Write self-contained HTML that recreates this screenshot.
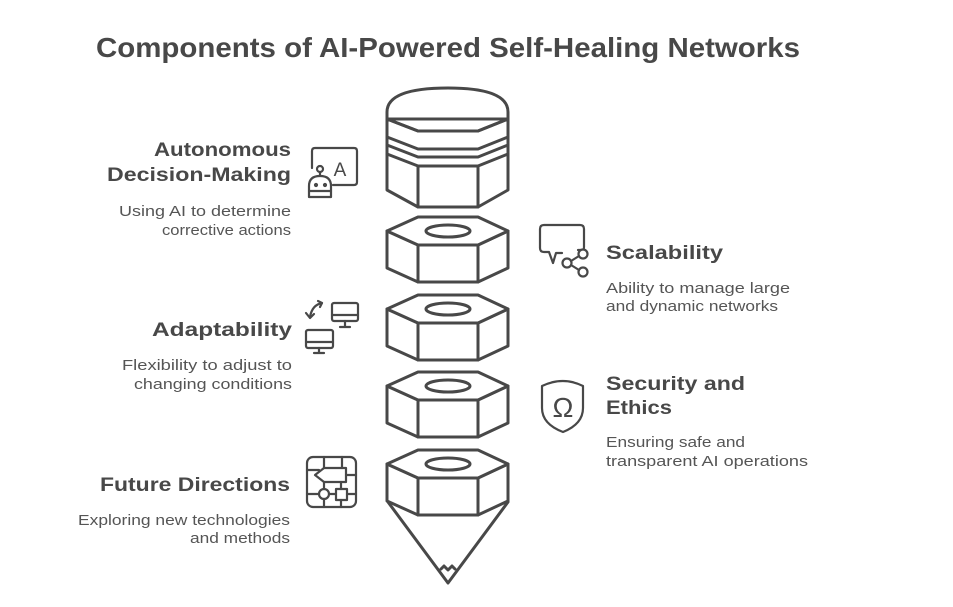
<!DOCTYPE html>
<html>
<head>
<meta charset="utf-8">
<style>
  html, body { margin: 0; padding: 0; background: #ffffff; }
  svg { display: block; }
  .h { font-family: "Liberation Sans", "DejaVu Sans", sans-serif; font-weight: bold; fill: #484848; }
  .d { font-family: "Liberation Sans", "DejaVu Sans", sans-serif; fill: #555555; }
</style>
</head>
<body>
<svg width="953" height="607" viewBox="0 0 953 607" xmlns="http://www.w3.org/2000/svg">
  <rect x="0" y="0" width="953" height="607" fill="#ffffff"/>

  <!-- Title -->
  <text class="h" x="96" y="57" font-size="28" textLength="704" lengthAdjust="spacingAndGlyphs">Components of AI-Powered Self-Healing Networks</text>

  <!-- Central stack -->
  <g stroke="#484848" stroke-width="3" fill="#ffffff" stroke-linejoin="round" stroke-linecap="round">
    <!-- Cap -->
    <path d="M387,119 L387,112 C387,95 410,88 448,88 C486,88 508,95 508,112 L508,119 Z"/>
    <path d="M387,119 L418,131 L478,131 L508,119 L508,190 L478,207 L418,207 L387,190 Z"/>
    <polyline fill="none" points="387,119 418,131 478,131 508,119"/>
    <polyline fill="none" points="387,137 418,149 478,149 508,137"/>
    <polyline fill="none" points="387,145 418,157 478,157 508,145"/>
    <polyline fill="none" points="387,154 418,166 478,166 508,154"/>
    <line x1="418" y1="166" x2="418" y2="207"/>
    <line x1="478" y1="166" x2="478" y2="207"/>

    <!-- Nut 1 T=217 -->
    <path d="M387,231 L418,245 L478,245 L508,231 L508,268 L478,282 L418,282 L387,268 Z"/>
    <polygon points="418,217 478,217 508,231 478,245 418,245 387,231"/>
    <line x1="418" y1="245" x2="418" y2="282"/>
    <line x1="478" y1="245" x2="478" y2="282"/>
    <ellipse cx="448" cy="231" rx="22" ry="6"/>

    <!-- Nut 2 T=295 -->
    <path d="M387,309 L418,323 L478,323 L508,309 L508,346 L478,360 L418,360 L387,346 Z"/>
    <polygon points="418,295 478,295 508,309 478,323 418,323 387,309"/>
    <line x1="418" y1="323" x2="418" y2="360"/>
    <line x1="478" y1="323" x2="478" y2="360"/>
    <ellipse cx="448" cy="309" rx="22" ry="6"/>

    <!-- Nut 3 T=372 -->
    <path d="M387,386 L418,400 L478,400 L508,386 L508,423 L478,437 L418,437 L387,423 Z"/>
    <polygon points="418,372 478,372 508,386 478,400 418,400 387,386"/>
    <line x1="418" y1="400" x2="418" y2="437"/>
    <line x1="478" y1="400" x2="478" y2="437"/>
    <ellipse cx="448" cy="386" rx="22" ry="6"/>

    <!-- Nut 4 T=450 + cone -->
    <polyline fill="none" points="388,502 448,583 508,502"/>
    <polyline fill="none" points="441,569 444,566 448,570 452,566 455,569"/>
    <path d="M387,464 L418,478 L478,478 L508,464 L508,501 L478,515 L418,515 L387,501 Z"/>
    <polygon points="418,450 478,450 508,464 478,478 418,478 387,464"/>
    <line x1="418" y1="478" x2="418" y2="515"/>
    <line x1="478" y1="478" x2="478" y2="515"/>
    <ellipse cx="448" cy="464" rx="22" ry="6"/>
  </g>

  <!-- Icons -->
  <g stroke="#484848" stroke-width="2.2" fill="none" stroke-linejoin="round" stroke-linecap="round">
    <!-- Autonomous decision making -->
    <path d="M312,168 L312,151 Q312,148 315,148 L354,148 Q357,148 357,151 L357,182 Q357,185 354,185 L333,185"/>
    <text x="340" y="176" font-family="Liberation Sans, sans-serif" font-size="19" fill="#484848" stroke="none" text-anchor="middle">A</text>
    <circle cx="320" cy="169" r="3" fill="#ffffff"/>
    <line x1="320" y1="172" x2="320" y2="176"/>
    <path d="M309,197 L309,186 Q309,176 320,176 Q331,176 331,186 L331,197 Z" fill="#ffffff"/>
    <line x1="309" y1="191" x2="331" y2="191"/>
    <circle cx="316" cy="185" r="1" fill="#484848"/>
    <circle cx="325" cy="185" r="1" fill="#484848"/>

    <!-- Adaptability -->
    <rect x="332" y="303" width="26" height="18" rx="2"/>
    <line x1="332" y1="315" x2="358" y2="315"/>
    <line x1="345" y1="321" x2="345" y2="326"/>
    <line x1="340" y1="327" x2="350" y2="327"/>
    <rect x="306" y="330" width="27" height="18" rx="2"/>
    <line x1="306" y1="342" x2="333" y2="342"/>
    <line x1="319" y1="348" x2="319" y2="352"/>
    <line x1="314" y1="353" x2="324" y2="353"/>
    <path d="M322,303 Q312,305 310,317"/>
    <polyline points="306,313 310,318 314,314"/>
    <polyline points="318,301 322,303 320,307"/>

    <!-- Future directions -->
    <rect x="307" y="457" width="49" height="50" rx="6"/>
    <polygon points="315,475 324,468 346,468 346,482 324,482"/>
    <line x1="324" y1="457" x2="324" y2="468"/>
    <line x1="342" y1="457" x2="342" y2="468"/>
    <line x1="307" y1="470" x2="319" y2="470"/>
    <line x1="346" y1="475" x2="356" y2="475"/>
    <line x1="324" y1="482" x2="324" y2="489"/>
    <line x1="341" y1="482" x2="341" y2="489"/>
    <circle cx="324" cy="494" r="5"/>
    <rect x="336" y="489" width="11" height="11"/>
    <line x1="307" y1="494" x2="319" y2="494"/>
    <line x1="329" y1="494" x2="336" y2="494"/>
    <line x1="347" y1="494" x2="356" y2="494"/>
    <line x1="324" y1="499" x2="324" y2="507"/>
    <line x1="341" y1="500" x2="341" y2="507"/>

    <!-- Scalability -->
    <path d="M578,250 L582,250 Q584,250 584,247 L584,229 Q584,225 580,225 L544,225 Q540,225 540,229 L540,248 Q540,252 544,252 L549,252 L553,263 L556,253 L562,253"/>
    <circle cx="583" cy="254" r="4.5" fill="#ffffff"/>
    <circle cx="567" cy="263" r="4.5" fill="#ffffff"/>
    <circle cx="583" cy="272" r="4.5" fill="#ffffff"/>
    <line x1="571" y1="261" x2="579" y2="256"/>
    <line x1="571" y1="265" x2="579" y2="270"/>

    <!-- Security shield -->
    <path d="M542,386 Q563,376 583,386 L583,408 Q583,424 563,432 Q542,424 542,408 Z"/>
    <text x="563" y="417" font-family="Liberation Sans, sans-serif" font-size="28" fill="#484848" stroke="none" text-anchor="middle">Ω</text>
  </g>

  <!-- Left labels -->
  <text class="h" x="154" y="156" font-size="19.5" textLength="137" lengthAdjust="spacingAndGlyphs">Autonomous</text>
  <text class="h" x="107" y="181" font-size="19.5" textLength="184" lengthAdjust="spacingAndGlyphs">Decision-Making</text>
  <text class="d" x="119" y="216" font-size="14.5" textLength="172" lengthAdjust="spacingAndGlyphs">Using AI to determine</text>
  <text class="d" x="162" y="235" font-size="14.5" textLength="129" lengthAdjust="spacingAndGlyphs">corrective actions</text>

  <text class="h" x="152" y="336" font-size="19.5" textLength="140" lengthAdjust="spacingAndGlyphs">Adaptability</text>
  <text class="d" x="122" y="370" font-size="14.5" textLength="170" lengthAdjust="spacingAndGlyphs">Flexibility to adjust to</text>
  <text class="d" x="134" y="389" font-size="14.5" textLength="158" lengthAdjust="spacingAndGlyphs">changing conditions</text>

  <text class="h" x="100" y="491" font-size="19.5" textLength="190" lengthAdjust="spacingAndGlyphs">Future Directions</text>
  <text class="d" x="78" y="525" font-size="14.5" textLength="212" lengthAdjust="spacingAndGlyphs">Exploring new technologies</text>
  <text class="d" x="190" y="543" font-size="14.5" textLength="100" lengthAdjust="spacingAndGlyphs">and methods</text>

  <!-- Right labels -->
  <text class="h" x="606" y="259" font-size="19.5" textLength="117" lengthAdjust="spacingAndGlyphs">Scalability</text>
  <text class="d" x="606" y="293" font-size="14.5" textLength="184" lengthAdjust="spacingAndGlyphs">Ability to manage large</text>
  <text class="d" x="606" y="311" font-size="14.5" textLength="172" lengthAdjust="spacingAndGlyphs">and dynamic networks</text>

  <text class="h" x="606" y="390" font-size="19.5" textLength="139" lengthAdjust="spacingAndGlyphs">Security and</text>
  <text class="h" x="606" y="414" font-size="19.5" textLength="66" lengthAdjust="spacingAndGlyphs">Ethics</text>
  <text class="d" x="606" y="447" font-size="14.5" textLength="139" lengthAdjust="spacingAndGlyphs">Ensuring safe and</text>
  <text class="d" x="606" y="466" font-size="14.5" textLength="202" lengthAdjust="spacingAndGlyphs">transparent AI operations</text>
</svg>
</body>
</html>
